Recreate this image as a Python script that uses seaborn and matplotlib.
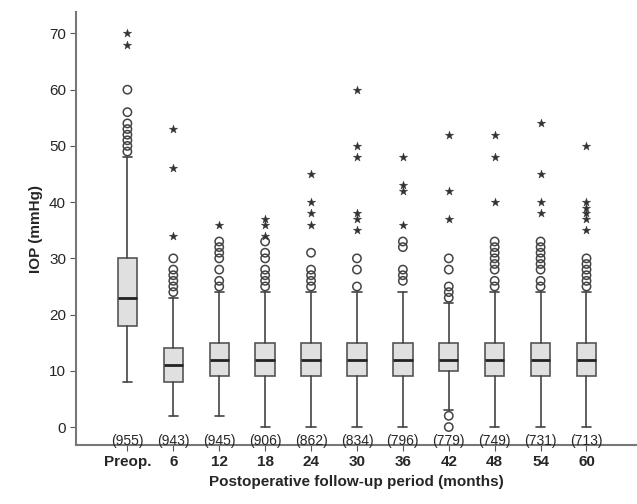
import numpy as np
import pandas as pd
import matplotlib
matplotlib.use("Agg")
import matplotlib.pyplot as plt
import seaborn as sns

sns.set_style("white")
plt.rcParams["font.family"] = ["Liberation Sans", "DejaVu Sans"]

periods = ["Preop.", "6", "12", "18", "24", "30", "36", "42", "48", "54", "60"]
counts = [955, 943, 945, 906, 862, 834, 796, 779, 749, 731, 713]
q1 = [18, 8, 9, 9, 9, 9, 9, 10, 9, 9, 9]
med = [23, 11, 12, 12, 12, 12, 12, 12, 12, 12, 12]
q3 = [30, 14, 15, 15, 15, 15, 15, 15, 15, 15, 15]
whislo = [8, 2, 2, 0, 0, 0, 0, 3, 0, 0, 0]
whishi = [48, 23, 24, 24, 24, 24, 24, 22, 24, 24, 24]
circles = [
    [49, 50, 51, 52, 53, 54, 56, 60],
    [24, 25, 26, 27, 28, 30],
    [25, 26, 28, 30, 31, 32, 33],
    [25, 26, 27, 28, 30, 31, 33],
    [25, 26, 27, 28, 31],
    [25, 28, 30],
    [26, 27, 28, 32, 33],
    [0, 2, 23, 24, 25, 28, 30],
    [25, 26, 28, 29, 30, 31, 32, 33],
    [25, 26, 28, 29, 30, 31, 32, 33],
    [25, 26, 27, 28, 29, 30],
]
stars = [
    [68, 70],
    [34, 46, 53],
    [36],
    [34, 36, 37],
    [36, 38, 40, 45],
    [35, 37, 38, 48, 50, 60],
    [36, 42, 43, 48],
    [37, 42, 52],
    [40, 48, 52],
    [38, 40, 45, 54],
    [35, 37, 38, 39, 40, 50],
]

stats = [dict(med=med[i], q1=q1[i], q3=q3[i], whislo=whislo[i], whishi=whishi[i], fliers=[])
         for i in range(len(periods))]

circ_df = pd.DataFrame([(i, v) for i, vals in enumerate(circles) for v in vals], columns=["pos", "iop"])
star_df = pd.DataFrame([(i, v) for i, vals in enumerate(stars) for v in vals], columns=["pos", "iop"])

fig, ax = plt.subplots(figsize=(6.37, 5.04), dpi=100)
fig.subplots_adjust(left=0.12, right=1.0, bottom=0.117, top=0.976)

ax.bxp(stats, positions=range(len(periods)), widths=0.42, patch_artist=True,
       boxprops=dict(facecolor="#e0e0e0", edgecolor="#555555", linewidth=1.2),
       medianprops=dict(color="#222222", linewidth=2),
       whiskerprops=dict(color="#444444", linewidth=1.2),
       capprops=dict(color="#444444", linewidth=1.2), capwidths=0.2)

sns.scatterplot(data=circ_df, x="pos", y="iop", marker="o", s=36, facecolor="none",
                edgecolor="#444444", linewidth=1.1, ax=ax, zorder=3)
sns.scatterplot(data=star_df, x="pos", y="iop", marker="*", s=40, color="#333333",
                edgecolor="#333333", linewidth=0.3, ax=ax, zorder=3)

for i, n in enumerate(counts):
    ax.text(i, -2.4, f"({n})", ha="center", va="center", fontsize=10)

ax.set_xlim(-1.11, 11.1)
ax.set_ylim(-3.2, 73.8)
ax.set_yticks(range(0, 71, 10))
ax.set_xticks(range(len(periods)))
ax.set_xticklabels(periods, fontweight="bold", fontsize=11)
ax.tick_params(axis="y", labelsize=11, left=True, length=4, color="#555555")
ax.tick_params(axis="x", bottom=True, length=4, color="#555555")
ax.set_xlabel("Postoperative follow-up period (months)", fontweight="bold", fontsize=11)
ax.set_ylabel("IOP (mmHg)", fontweight="bold", fontsize=11)
sns.despine(ax=ax)
for s in ["left", "bottom"]:
    ax.spines[s].set_color("#777777")
    ax.spines[s].set_linewidth(1.5)

fig.savefig("out.png", dpi=100)
